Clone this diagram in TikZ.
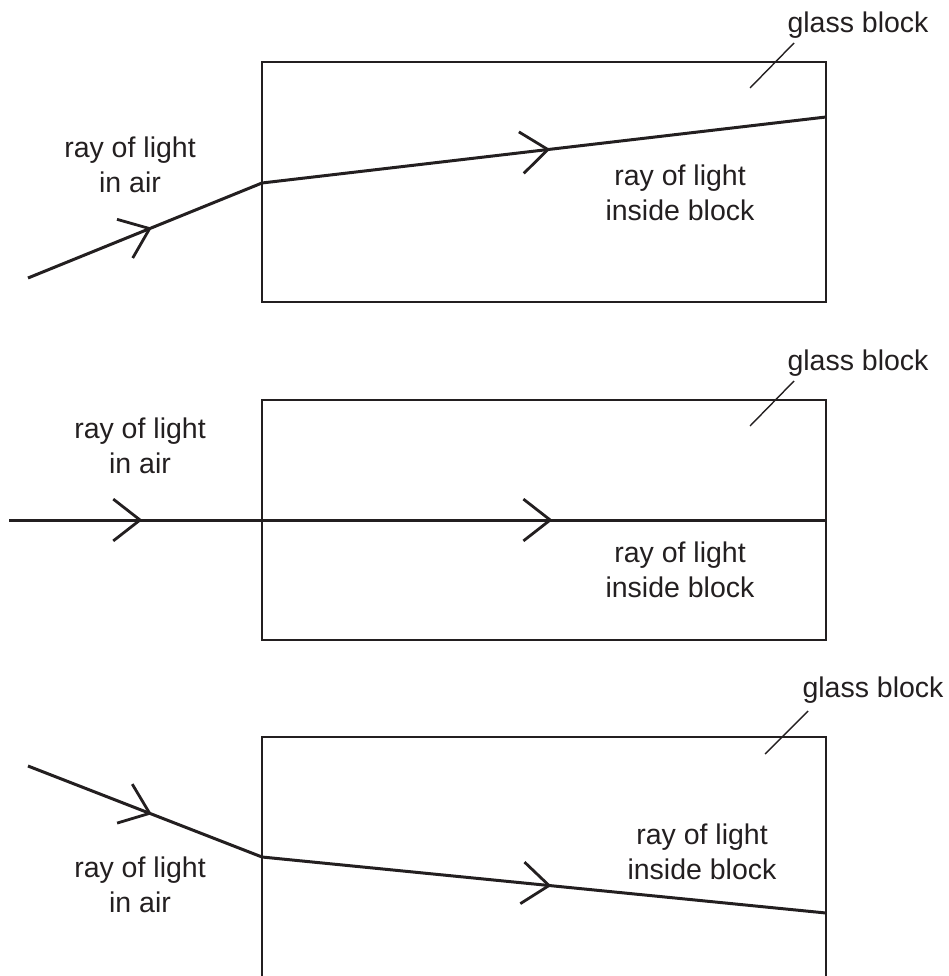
\documentclass[tikz,border=0pt]{standalone}
\usepackage{fontspec}
\setmainfont{Liberation Sans}
\usetikzlibrary{decorations.markings}
\definecolor{ink}{RGB}{35,31,32}
\tikzset{
  block/.style={draw=ink, line width=2.9pt, inner sep=0pt, outer sep=0pt,
    minimum width=564pt, minimum height=240pt},
  ray/.style={draw=ink, line width=3pt, postaction={decorate},
    decoration={markings, mark=at position #1 with
      {\draw[ink, line width=2.8pt] (-26.8,20.9) -- (0,0) -- (-26.8,-20.9);}}},
  lab/.style={font=\fontsize{28.5}{35}\selectfont, text=ink, align=center, inner sep=0pt},
  leader/.style={draw=ink, line width=1.4pt}
}
\begin{document}
\begin{tikzpicture}[x=1pt,y=-1pt]
\useasboundingbox (0,0) rectangle (949,976);
% panel 1
\node[block] (b1) at (544,182) {};
\coordinate (s1) at (28,278);
\coordinate (e1) at (262,183);
\coordinate (x1) at (826,117);
\draw[ray=0.52] (s1) -- (e1);
\draw[ray=0.507] (e1) -- (x1);
\node[lab] (air1) at (130,165) {ray of light\\in air};
\node[lab] (in1) at (680,193) {ray of light\\inside block};
\node[lab] (g1) at (858,25) {glass block};
\coordinate (l1a) at (750,88);
\coordinate (l1b) at (794,43);
\draw[leader] (l1a) -- (l1b);
% panel 2
\node[block] (b2) at (544,520) {};
\coordinate (s2) at (9,520);
\coordinate (e2) at (262,520);
\coordinate (x2) at (826,520);
\draw[ray=0.518] (s2) -- (e2);
\draw[ray=0.511] (e2) -- (x2);
\node[lab] (air2) at (140,446) {ray of light\\in air};
\node[lab] (in2) at (680,570) {ray of light\\inside block};
\node[lab] (g2) at (858,363) {glass block};
\coordinate (l2a) at (750,426);
\coordinate (l2b) at (794,381);
\draw[leader] (l2a) -- (l2b);
% panel 3
\node[block, minimum height=242pt] (b3) at (544,858) {};
\coordinate (s3) at (28,766);
\coordinate (e3) at (262,857);
\coordinate (x3) at (826,913);
\draw[ray=0.52] (s3) -- (e3);
\draw[ray=0.509] (e3) -- (x3);
\node[lab] (air3) at (140,885) {ray of light\\in air};
\node[lab] (in3) at (702,852) {ray of light\\inside block};
\node[lab] (g3) at (873,690) {glass block};
\coordinate (l3a) at (765,754);
\coordinate (l3b) at (808,711);
\draw[leader] (l3a) -- (l3b);
\end{tikzpicture}
\end{document}
